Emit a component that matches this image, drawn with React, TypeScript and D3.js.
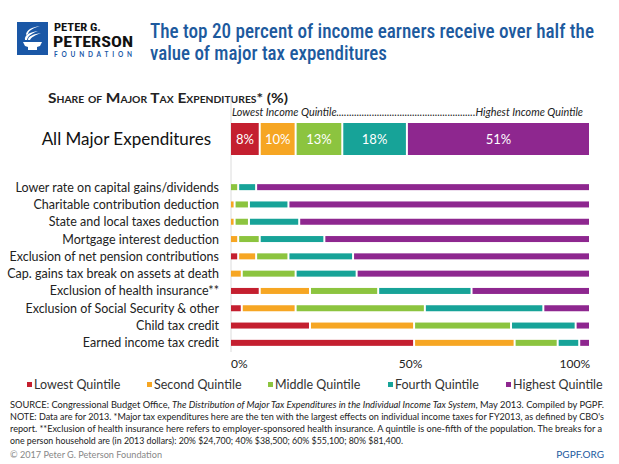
import React from "react";
import * as d3 from "d3";

const categories = [
  "Lower rate on capital gains/dividends",
  "Charitable contribution deduction",
  "State and local taxes deduction",
  "Mortgage interest deduction",
  "Exclusion of net pension contributions",
  "Cap. gains tax break on assets at death",
  "Exclusion of health insurance**",
  "Exclusion of Social Security & other",
  "Child tax credit",
  "Earned income tax credit",
];
const lowest = [0, 0, 0, 0, 2, 0, 8, 3, 22, 51];
const second = [0, 1, 1, 2, 5, 3, 14, 15, 29, 28];
const middle = [2, 4, 4, 6, 9, 15, 19, 36, 27, 12];
const fourth = [5, 11, 14, 18, 18, 17, 26, 33, 18, 6];
const highest = [93, 84, 81, 74, 66, 65, 33, 13, 4, 3];

const allLabel = "All Major Expenditures";
const allValues = [8, 10, 13, 18, 51];

const seriesNames = ["Lowest Quintile", "Second Quintile", "Middle Quintile", "Fourth Quintile", "Highest Quintile"];
const seriesKeys = ["lowest", "second", "middle", "fourth", "highest"];
const colors = ["#c41f2f", "#f6a623", "#8cc43f", "#17a398", "#8e278f"];
const tickValues = [0, 50, 100];

const FONT = "Lato, 'Noto Sans', sans-serif";
const TITLE_FONT = "'Roboto Condensed', 'Liberation Sans Narrow', 'DejaVu Sans Condensed', Roboto, sans-serif";

export default function App() {
  const x = d3.scaleLinear().domain([0, 100]).range([231, 590]);
  const y = d3.scaleBand<number>().domain(d3.range(categories.length)).range([178.5, 351.5]);
  const rows = categories.map((c, i) => ({
    lowest: lowest[i], second: second[i], middle: middle[i], fourth: fourth[i], highest: highest[i],
  }));
  const stack = d3.stack<any>().keys(seriesKeys)(rows);
  const allRow = [{ lowest: allValues[0], second: allValues[1], middle: allValues[2], fourth: allValues[3], highest: allValues[4] }];
  const allStack = d3.stack<any>().keys(seriesKeys)(allRow);
  const barH = 6;

  const segRect = (s0: number, s1: number) => {
    const x0 = x(s0) + (s0 === 0 ? 0 : 1);
    const x1 = x(s1) - 1;
    return { x0, w: Math.max(0, x1 - x0) };
  };

  const legendX = [27, 147, 268, 388, 506];

  return (
    <svg width={619} height={464} style={{ position: "absolute", left: 0, top: 0, background: "#fff" }}>
      <rect x={0} y={0} width={619} height={464} fill="#fff" />
      {/* Logo */}
      <rect x={17} y={22} width={31} height={33} fill="#1a57a6" />
      <g fill="#fff">
        <path d="M23,42 L42,42 L40,46 L37,47 L37,50 L28,50 L28,47 L25,46 Z" />
        <path d="M25,40 C24,35 30,32 38,31 C33,33 28,35 27,40 Z" />
        <path d="M28,40 C28,36 34,34 41,33 C36,35 31,37 30,40 Z" />
        <path d="M26,35 C26,30 32,27 40,26 C34,28 29,30 28,34 Z" />
      </g>
      <text x={54} y={30.5} fontFamily={TITLE_FONT} fontWeight={700} fontSize={10.5} fill="#111" textLength={47} lengthAdjust="spacingAndGlyphs">PETER G.</text>
      <text x={53} y={47} fontFamily={TITLE_FONT} fontWeight={700} fontSize={15.5} fill="#111" textLength={80} lengthAdjust="spacingAndGlyphs">PETERSON</text>
      <text x={54} y={56.5} fontFamily={FONT} fontWeight={700} fontSize={6.5} fill="#1a57a6" textLength={78} lengthAdjust="spacing">FOUNDATION</text>

      {/* Title */}
      <text x={150} y={38} fontFamily={TITLE_FONT} fontWeight={500} fontSize={20} fill="#1d5a9e" textLength={444} lengthAdjust="spacingAndGlyphs">The top 20 percent of income earners receive over half the</text>
      <text x={150} y={60} fontFamily={TITLE_FONT} fontWeight={500} fontSize={20} fill="#1d5a9e" textLength={237} lengthAdjust="spacingAndGlyphs">value of major tax expenditures</text>

      {/* Subtitle */}
      <text x={48} y={103} fontFamily={FONT} fontWeight={700} fontSize={13.5} fill="#222" style={{ fontVariant: "small-caps" }} textLength={240} lengthAdjust="spacingAndGlyphs">Share of Major Tax Expenditures* (%)</text>

      {/* axis line */}
      <line x1={231} x2={231} y1={96} y2={352} stroke="#dcdcdc" strokeWidth={1} />

      <text x={232} y={116} fontFamily={FONT} fontStyle="italic" fontSize={10.5} fill="#222" textLength={351} lengthAdjust="spacingAndGlyphs">Lowest Income Quintile.......................................................Highest Income Quintile</text>

      {/* All major bar */}
      <text x={211} y={145} textAnchor="end" fontFamily={FONT} fontSize={17} fill="#111">{allLabel}</text>
      {allStack.map((layer, k) => {
        const d = layer[0];
        const r = segRect(d[0], d[1]);
        return (
          <g key={k}>
            <rect x={r.x0} y={123} width={r.w} height={32} fill={colors[k]} />
            <text x={r.x0 + r.w / 2} y={144} textAnchor="middle" fontFamily={FONT} fontSize={13} fill="#fff">{allValues[k]}%</text>
          </g>
        );
      })}

      {/* Rows */}
      {categories.map((c, i) => (
        <text key={c} x={219} y={(y(i) as number) + y.bandwidth() / 2 + 4.5} textAnchor="end" fontFamily={FONT} fontSize={12.5} fill="#222">{c}</text>
      ))}
      {stack.map((layer, k) => (
        <g key={k}>
          {layer.map((d, i) => {
            if (d[1] - d[0] <= 0) return null;
            const r = segRect(d[0], d[1]);
            return <rect key={i} x={r.x0} y={(y(i) as number) + y.bandwidth() / 2 - barH / 2} width={r.w} height={barH} fill={colors[k]} />;
          })}
        </g>
      ))}

      {/* x tick labels */}
      {tickValues.map((t, i) => (
        <text key={t} x={x(t)} y={368} textAnchor={i === 0 ? "start" : i === tickValues.length - 1 ? "end" : "middle"} fontFamily={FONT} fontSize={12} fill="#222">{t}%</text>
      ))}

      {/* Legend */}
      {seriesNames.map((n, k) => (
        <g key={n}>
          <rect x={legendX[k]} y={382} width={5} height={5} fill={colors[k]} />
          <text x={legendX[k] + 7} y={389} fontFamily={FONT} fontSize={12.5} fill="#333">{n}</text>
        </g>
      ))}

      {/* Footer */}
      <g fontFamily={FONT} fontSize={9} fill="#222">
        <text x={10} y={408} textLength={594} lengthAdjust="spacingAndGlyphs">SOURCE: Congressional Budget Office, <tspan fontStyle="italic">The Distribution of Major Tax Expenditures in the Individual Income Tax System</tspan>, May 2013. Compiled by PGPF.</text>
        <text x={10} y={420} textLength={594} lengthAdjust="spacingAndGlyphs">NOTE: Data are for 2013. *Major tax expenditures here are the ten with the largest effects on individual income taxes for FY2013, as defined by CBO's</text>
        <text x={10} y={432} textLength={592} lengthAdjust="spacingAndGlyphs">report. **Exclusion of health insurance here refers to employer-sponsored health insurance. A quintile is one-fifth of the population. The breaks for a</text>
        <text x={10} y={444} textLength={393} lengthAdjust="spacingAndGlyphs">one person household are (in 2013 dollars): 20% $24,700; 40% $38,500; 60% $55,100; 80% $81,400.</text>
        <text x={10} y={458} fill="#888" textLength={152} lengthAdjust="spacingAndGlyphs">© 2017 Peter G. Peterson Foundation</text>
        <text x={604} y={458} textAnchor="end" fill="#1d5a9e" fontSize={10}>PGPF.ORG</text>
      </g>
    </svg>
  );
}
